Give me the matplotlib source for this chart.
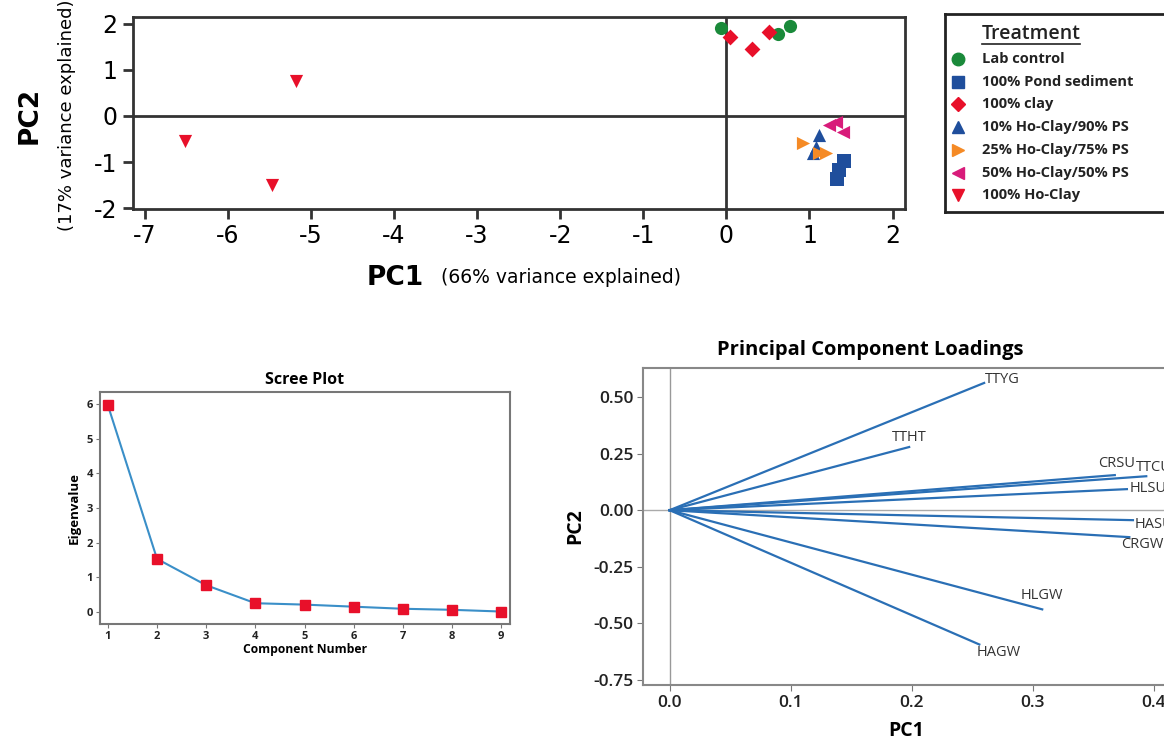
import matplotlib.pyplot as plt

plt.rcParams["axes.unicode_minus"] = False

W, H = 1164, 740

# PCA scores by treatment
treatments = ["Lab control", "100% Pond sediment", "100% clay",
              "10% Ho-Clay/90% PS", "25% Ho-Clay/75% PS",
              "50% Ho-Clay/50% PS", "100% Ho-Clay"]
pc1_scores = [
    [-0.07, 0.62, 0.77],
    [1.41, 1.36, 1.33],
    [0.05, 0.31, 0.51],
    [1.12, 1.08, 1.04],
    [0.92, 1.12, 1.20],
    [1.24, 1.32, 1.40],
    [-5.18, -6.52, -5.47],
]
pc2_scores = [
    [1.91, 1.78, 1.96],
    [-0.97, -1.18, -1.36],
    [1.72, 1.46, 1.83],
    [-0.41, -0.67, -0.80],
    [-0.59, -0.80, -0.80],
    [-0.20, -0.13, -0.35],
    [0.76, -0.55, -1.50],
]
colors = ["#1a8a3a", "#1f4e9c", "#e8102a", "#1f4e9c", "#f58a25", "#d81b7a", "#e8102a"]
markers = ["o", "s", "D", "^", ">", "<", "v"]

# Scree plot
components = [1, 2, 3, 4, 5, 6, 7, 8, 9]
eigenvalues = [5.97, 1.53, 0.77, 0.25, 0.21, 0.15, 0.09, 0.06, 0.01]

# Loadings
variables = ["TTYG", "TTHT", "CRSU", "TTCU", "HLSU", "HASU", "CRGW", "HLGW", "HAGW"]
load_pc1 = [0.260, 0.198, 0.368, 0.394, 0.378, 0.383, 0.380, 0.308, 0.256]
load_pc2 = [0.562, 0.279, 0.155, 0.150, 0.093, -0.044, -0.119, -0.438, -0.593]
# label placement (pixel offsets from vector tip, alignment)
lab_dx = [1, 0, -17, -10, 3, 2, -8, 0, -3]
lab_dy = [3, 10, 12, 9, 1, -4, -7, 14, -8]
lab_ha = ["left", "center", "left", "left", "left", "left", "left", "center", "left"]


def box(l, t, r, b):
    return [l / W, 1 - b / H, (r - l) / W, (b - t) / H]


fig = plt.figure(figsize=(W / 100, H / 100), dpi=100)
fig.patch.set_facecolor("white")

# ---- score plot ----
ax = fig.add_axes(box(133, 17, 905, 209))
for i in range(len(treatments)):
    ax.scatter(pc1_scores[i], pc2_scores[i], marker=markers[i], color=colors[i],
               s=90 if markers[i] != "D" else 65, zorder=3, linewidths=0)
ax.axhline(0, color="#333333", lw=2, zorder=1)
ax.axvline(0, color="#333333", lw=2, zorder=1)
ax.set_xlim(-7.14, 2.15)
ax.set_ylim(-2.02, 2.15)
ax.set_xticks(range(-7, 3))
ax.set_yticks(range(-2, 3))
for s in ax.spines.values():
    s.set_color("#333333")
    s.set_linewidth(2)
ax.tick_params(direction="out", length=7, width=2, color="#333333",
               labelsize=17, pad=4)
fig.text(30 / W, 1 - 115 / H, "PC2", rotation=90, fontsize=19, fontweight="bold",
         ha="center", va="center")
fig.text(67 / W, 1 - 115 / H, "(17% variance explained)", rotation=90, fontsize=13,
         ha="center", va="center")
fig.text(395 / W, 1 - 278 / H, "PC1", fontsize=19, fontweight="bold",
         ha="center", va="center")
fig.text(561 / W, 1 - 278 / H, "(66% variance explained)", fontsize=13.5,
         ha="center", va="center")

# ---- legend ----
lax = fig.add_axes(box(945, 14, 1180, 212))
lax.set_xlim(0, 235)
lax.set_ylim(198, 0)
lax.set_xticks([])
lax.set_yticks([])
for s in lax.spines.values():
    s.set_color("#222222")
    s.set_linewidth(2)
lax.text(37, 20, "Treatment", fontsize=14, ha="left", va="center",
         family="Open Sans", fontweight="semibold", color="#222222")
lax.plot([37, 135], [30, 30], color="#222222", lw=1.2)
for i, name in enumerate(treatments):
    yy = 45 + i * 22.7
    lax.plot(13, yy, marker=markers[i], color=colors[i], ms=9 if markers[i] != "D" else 7,
             ls="none")
    lax.text(37, yy, name, fontsize=10.5, ha="left", va="center",
             family="Open Sans", fontweight="bold", color="#222222")

# ---- scree plot ----
sax = fig.add_axes(box(100, 392, 510, 624))
sax.plot(components, eigenvalues, color="#3a8fc8", lw=1.5, marker="s", ms=6.5,
         mfc="#e8102a", mec="#e8102a", zorder=3)
sax.set_xlim(0.84, 9.18)
sax.set_ylim(-0.35, 6.35)
sax.set_xticks(components)
sax.set_yticks(range(0, 7))
for s in sax.spines.values():
    s.set_color("#777777")
    s.set_linewidth(1.5)
sax.tick_params(direction="out", length=3, color="#777777", labelsize=8, pad=2)
for lab in sax.get_xticklabels() + sax.get_yticklabels():
    lab.set_fontweight("bold")
    lab.set_family("Open Sans")
    lab.set_color("#222222")
sax.set_title("Scree Plot", fontsize=11.5, fontweight="bold", family="Open Sans", pad=6)
sax.set_xlabel("Component Number", fontsize=8.7, fontweight="bold", family="Open Sans",
               labelpad=1)
sax.set_ylabel("Eigenvalue", fontsize=9.5, fontweight="bold", family="Open Sans",
               labelpad=4)

# ---- loadings plot ----
lo = fig.add_axes(box(643, 368, 1214, 685))
lo.axhline(0, color="#aaaaaa", lw=1, zorder=1)
lo.axvline(0, color="#999999", lw=1, zorder=1)
for i, v in enumerate(variables):
    lo.plot([0, load_pc1[i]], [0, load_pc2[i]], color="#2a6fb5", lw=1.6, zorder=2)
    lo.annotate(v, (load_pc1[i], load_pc2[i]), xytext=(lab_dx[i], lab_dy[i]),
                textcoords="offset pixels", ha=lab_ha[i], va="center",
                fontsize=10.5, color="#333333", family="Open Sans")
lo.set_xlim(-0.022, 0.45)
lo.set_ylim(-0.772, 0.628)
lo.set_xticks([0.0, 0.1, 0.2, 0.3, 0.4])
lo.set_yticks([0.5, 0.25, 0.0, -0.25, -0.5, -0.75])
lo.set_yticklabels(["0.50", "0.25", "0.00", "-0.25", "-0.50", "-0.75"])
for s in lo.spines.values():
    s.set_color("#888888")
    s.set_linewidth(1.5)
lo.tick_params(direction="out", length=4, color="#777777", labelsize=12.5, pad=3)
for lab in lo.get_xticklabels() + lo.get_yticklabels():
    lab.set_fontweight("semibold")
    lab.set_family("Open Sans")
    lab.set_color("#222222")
lo.set_title("Principal Component Loadings", fontsize=14.5, fontweight="bold",
             family="Open Sans", x=(870 - 643) / (1214 - 643), pad=9)
lo.set_xlabel("PC1", fontsize=14, fontweight="bold", family="Open Sans", labelpad=2)
lo.xaxis.set_label_coords((906 - 643) / (1214 - 643), -0.115)
lo.set_ylabel("PC2", fontsize=14, fontweight="bold", family="Open Sans", labelpad=6)

fig.savefig("out.png", dpi=100)
